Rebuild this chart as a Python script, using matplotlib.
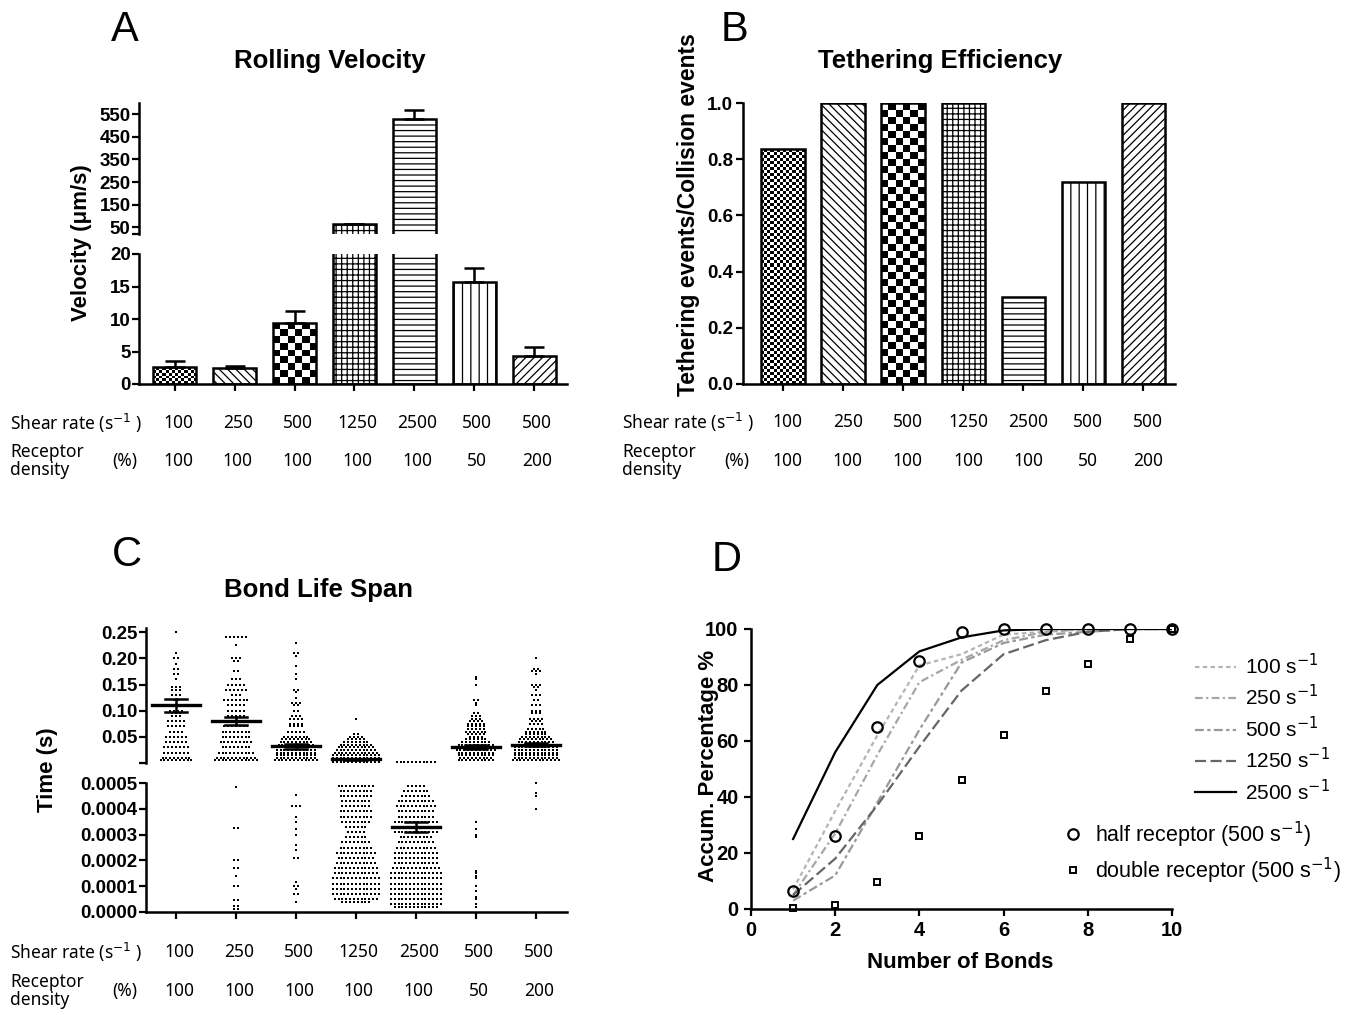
import matplotlib
matplotlib.use("Agg")
import matplotlib.pyplot as plt
import matplotlib.transforms as mtransforms
import numpy as np

W, H = 1365, 1015

# ---- data -------------------------------------------------------------
shear_rates = ["100", "250", "500", "1250", "2500", "500", "500"]
densities = ["100", "100", "100", "100", "100", "50", "200"]

velocity = [2.6, 2.4, 9.4, 63, 528, 15.7, 4.3]
velocity_err = [0.9, 0.3, 1.8, 2.5, 42, 2.1, 1.4]

tether_eff = [0.835, 1.0, 1.0, 1.0, 0.31, 0.72, 1.0]

bar_hatches = ["fine", "\\\\\\\\", "coarse", "+++", "---", "||", "////"]

# bond life span, (value [s], count) read row by row off the swarm
top_100 = [(0.250, 1), (0.210, 1), (0.200, 2), (0.190, 1), (0.180, 2), (0.170, 2),
           (0.160, 1), (0.145, 3), (0.140, 3), (0.130, 3), (0.120, 2), (0.110, 3),
           (0.100, 4), (0.095, 3), (0.090, 3), (0.080, 5), (0.070, 5), (0.060, 4),
           (0.050, 6), (0.040, 6), (0.030, 7), (0.020, 7), (0.010, 8), (0.005, 9)]
top_250 = [(0.240, 6), (0.225, 1), (0.200, 3), (0.195, 2), (0.175, 2), (0.160, 3),
           (0.150, 5), (0.140, 6), (0.130, 3), (0.120, 7), (0.110, 5), (0.100, 5),
           (0.090, 5), (0.080, 9), (0.070, 7), (0.060, 8), (0.050, 8), (0.040, 9),
           (0.030, 8), (0.020, 10), (0.010, 11), (0.005, 12)]
top_500 = [(0.230, 1), (0.210, 2), (0.205, 1), (0.185, 1), (0.170, 1), (0.160, 1),
           (0.140, 2), (0.135, 1), (0.125, 1), (0.115, 3), (0.110, 2), (0.100, 2),
           (0.090, 3), (0.085, 4), (0.075, 4), (0.070, 4), (0.060, 5), (0.050, 7),
           (0.045, 8), (0.040, 9), (0.035, 10), (0.030, 11), (0.025, 11), (0.020, 11),
           (0.015, 11), (0.010, 11), (0.005, 12)]
top_1250 = [(0.085, 1), (0.055, 2), (0.050, 4), (0.045, 5), (0.040, 7), (0.035, 9),
            (0.030, 10), (0.025, 11), (0.020, 12), (0.015, 13), (0.010, 13),
            (0.005, 13), (0.002, 13)]
top_2500 = [(0.001, 11)]
top_50pct = [(0.165, 1), (0.160, 1), (0.150, 1), (0.120, 2), (0.115, 1), (0.110, 1),
             (0.095, 2), (0.090, 3), (0.085, 3), (0.080, 4), (0.075, 5), (0.070, 5),
             (0.065, 5), (0.060, 6), (0.055, 5), (0.050, 4), (0.045, 6), (0.040, 8),
             (0.035, 10), (0.030, 11), (0.025, 11), (0.020, 10), (0.015, 10),
             (0.010, 9), (0.005, 10)]
top_200pct = [(0.200, 1), (0.180, 2), (0.175, 3), (0.170, 1), (0.150, 3), (0.145, 2),
              (0.140, 1), (0.130, 3), (0.120, 2), (0.110, 3), (0.100, 3), (0.095, 3),
              (0.085, 4), (0.080, 3), (0.075, 4), (0.065, 5), (0.060, 6), (0.055, 6),
              (0.050, 8), (0.045, 9), (0.040, 10), (0.035, 11), (0.030, 12),
              (0.025, 12), (0.020, 12), (0.015, 12), (0.010, 12), (0.005, 13)]

bot_100 = []
bot_250 = [(0.000484, 1), (0.000326, 2), (0.000200, 2), (0.000170, 2), (0.000140, 1),
           (0.000100, 2), (0.000047, 2), (0.000023, 2), (0.000010, 2)]
bot_500 = [(0.000453, 1), (0.000410, 3), (0.000370, 1), (0.000350, 1), (0.000320, 1),
           (0.000300, 1), (0.000260, 1), (0.000240, 1), (0.000210, 2), (0.000116, 1),
           (0.000100, 2), (0.000090, 1), (0.000070, 2), (0.000040, 1)]
bot_1250 = [(0.00049, 10), (0.00047, 9), (0.00045, 9), (0.00043, 8), (0.00041, 8),
            (0.00039, 9), (0.00037, 9), (0.00035, 8), (0.00033, 6), (0.00031, 5),
            (0.00029, 6), (0.00027, 8), (0.00025, 9), (0.00023, 11), (0.00021, 10),
            (0.00019, 11), (0.00017, 12), (0.00015, 12), (0.00013, 13), (0.00011, 13),
            (0.00009, 13), (0.00007, 13), (0.00005, 12), (0.00004, 8)]
bot_2500 = [(0.00049, 5), (0.00047, 7), (0.00045, 8), (0.00043, 10), (0.00041, 11),
            (0.00039, 10), (0.00037, 10), (0.00035, 12), (0.00033, 13), (0.00031, 12),
            (0.00029, 9), (0.00027, 10), (0.00025, 11), (0.00023, 12), (0.00021, 12),
            (0.00019, 12), (0.00017, 13), (0.00015, 14), (0.00013, 14), (0.00011, 14),
            (0.00009, 14), (0.00007, 14), (0.00005, 14), (0.00003, 14), (0.00002, 12)]
bot_50pct = [(0.00035, 1), (0.00032, 1), (0.00030, 1), (0.00029, 1), (0.00016, 1),
             (0.00015, 1), (0.00014, 1), (0.00013, 1), (0.00010, 1), (0.00008, 1),
             (0.00006, 1), (0.00005, 1), (0.00003, 1), (0.00002, 1)]
bot_200pct = [(0.00050, 1), (0.00046, 1), (0.00045, 1), (0.00040, 1)]

life_top = [top_100, top_250, top_500, top_1250, top_2500, top_50pct, top_200pct]
life_bot = [bot_100, bot_250, bot_500, bot_1250, bot_2500, bot_50pct, bot_200pct]
life_mean_top = [0.110, 0.080, 0.032, 0.007, None, 0.030, 0.035]
life_sem_top = [0.012, 0.008, 0.005, 0.001, None, 0.004, 0.003]
life_mean_2500 = 0.00033
life_sem_2500 = 0.00002

n_bonds = list(range(1, 11))
accum = {
    "100": [7, 35, 62, 87, 91, 98, 99, 100, 100, 100],
    "250": [5, 27, 55, 81, 89, 96, 99, 100, 100, 100],
    "500": [3, 12, 38, 64, 88, 95, 98, 99, 100, 100],
    "1250": [5, 18, 37, 58, 78, 91, 96, 99, 100, 100],
    "2500": [25, 56, 80, 92, 97, 99.5, 100, 100, 100, 100],
}
half_receptor = [6.5, 26, 65, 88.5, 99, 100, 100, 100, 100, 100]
double_receptor = [0.5, 1.5, 9.5, 26, 46, 62, 78, 87.5, 96.5, 100]

# ---- style ------------------------------------------------------------
plt.rcParams["font.family"] = ["Liberation Sans", "DejaVu Sans"]
plt.rcParams["hatch.linewidth"] = 0.9
plt.rcParams["axes.linewidth"] = 1.8

TABLE_FONT = ["Noto Sans", "DejaVu Sans"]
BAR_W = 0.72
EDGE_LW = 1.8
TICK_FS = 13.5
LABEL_FS = 16

fig = plt.figure(figsize=(W / 100, H / 100), dpi=100)


def px_axes(left, top, right, bottom):
    return fig.add_axes([left / W, 1 - bottom / H, (right - left) / W, (bottom - top) / H])


def fig_text(x, y, s, **kw):
    fig.text(x / W, 1 - y / H, s, **kw)


def style(ax, bottom=True, pad=2):
    for side in ("top", "right"):
        ax.spines[side].set_visible(False)
    if not bottom:
        ax.spines["bottom"].set_visible(False)
        ax.tick_params(axis="x", bottom=False, labelbottom=False)
    ax.tick_params(direction="out", length=5, width=1.6, labelsize=TICK_FS, pad=pad)


def bold_ticks(ax):
    plt.setp(ax.get_xticklabels() + ax.get_yticklabels(), fontweight="bold")


def checker(ax, patch, x, top, cell_px, base):
    x0, x1 = x - BAR_W / 2, x + BAR_W / 2
    p0 = ax.transData.transform((x0, base))
    p1 = ax.transData.transform((x1, top))
    nx_ = max(1, int(round(abs(p1[0] - p0[0]) / cell_px)))
    ny_ = max(1, int(round(abs(p1[1] - p0[1]) / cell_px)))
    board = np.add.outer(np.arange(ny_), np.arange(nx_)) % 2
    im = ax.imshow(board, cmap="gray", extent=(x0, x1, base, top), origin="lower",
                   aspect="auto", interpolation="nearest", zorder=2.5)
    im.set_clip_path(patch)


def draw_bars(ax, heights, base=0):
    xs = np.arange(len(heights))
    for i, (h, hatch) in enumerate(zip(heights, bar_hatches)):
        face = ax.bar(xs[i], h, BAR_W, color="white", edgecolor="none", zorder=2)[0]
        if hatch in ("fine", "coarse"):
            checker(ax, face, xs[i], h, 3.0 if hatch == "fine" else 7.0, base)
            hatch = None
        ax.bar(xs[i], h, BAR_W, fill=False, edgecolor="black", linewidth=EDGE_LW,
               hatch=hatch, zorder=3)


def upper_errors(ax, idx):
    ax.errorbar(idx, [velocity[i] for i in idx],
                yerr=[np.zeros(len(idx)), [velocity_err[i] for i in idx]], fmt="none",
                ecolor="black", elinewidth=1.8, capsize=7.5, capthick=1.8, zorder=4)


def table(ax, x_label, y1, y2, x_pct, dx=0.05):
    tr = mtransforms.blended_transform_factory(ax.transData, fig.transFigure)
    for i, (s, d) in enumerate(zip(shear_rates, densities)):
        ax.text(i + dx, 1 - y1 / H, s, transform=tr, ha="center", va="center",
                fontsize=12.5, family=TABLE_FONT)
        ax.text(i + dx, 1 - y2 / H, d, transform=tr, ha="center", va="center",
                fontsize=12.5, family=TABLE_FONT)
    fig_text(x_label, y1, "Shear rate (s$^{-1}$ )", ha="left", va="center",
             fontsize=12.5, family=TABLE_FONT)
    fig_text(x_label, y2, "Receptor\ndensity", ha="left", va="center",
             fontsize=12.5, family=TABLE_FONT, linespacing=0.95)
    fig_text(x_pct, y2, "(%)", ha="center", va="center", fontsize=12.5,
             family=TABLE_FONT)


# ---- A: rolling velocity (broken axis) ----------------------------------
xlim_a = (-0.6, 6.55)
axA_hi = px_axes(139, 103, 567, 234)
axA_lo = px_axes(139, 254, 567, 384)
for ax, lim in ((axA_hi, (20, 600)), (axA_lo, (0, 20))):
    ax.set_xlim(*xlim_a)
    ax.set_ylim(*lim)
    style(ax, bottom=(ax is axA_lo), pad=1)
    ax.spines["bottom"].set_visible(ax is axA_lo)
draw_bars(axA_lo, velocity)
draw_bars(axA_hi, velocity, base=20)
upper_errors(axA_hi, [i for i, v in enumerate(velocity) if v > 20])
upper_errors(axA_lo, [i for i, v in enumerate(velocity) if v + velocity_err[i] < 20])
for ax in (axA_hi, axA_lo):
    ax.set_xlim(*xlim_a)
axA_hi.set_ylim(20, 600)
axA_lo.set_ylim(0, 20)
axA_hi.set_yticks([20, 50, 150, 250, 350, 450, 550], ["", "50", "150", "250", "350", "450", "550"])
axA_lo.set_yticks([0, 5, 10, 15, 20])
axA_lo.set_xticks(range(7), [""] * 7)
bold_ticks(axA_hi)
bold_ticks(axA_lo)
table(axA_lo, 10, 423, 461, 125)

fig_text(125, 30, "A", ha="center", va="center", fontsize=30)
fig_text(330, 61, "Rolling Velocity", ha="center", va="center", fontsize=18.5,
         fontweight="bold")
fig_text(82, 243, "Velocity (μm/s)", ha="center", va="center", rotation=90,
         fontsize=LABEL_FS, fontweight="bold")

# ---- B: tethering efficiency -------------------------------------------
axB = px_axes(743, 103, 1175, 384)
axB.set_xlim(-0.667, 6.53)
axB.set_ylim(0, 1.0)
style(axB)
draw_bars(axB, tether_eff)
axB.set_xlim(-0.667, 6.53)
axB.set_ylim(0, 1.0)
axB.set_yticks(np.arange(0, 1.01, 0.2), [f"{v:.1f}" for v in np.arange(0, 1.01, 0.2)])
axB.set_xticks(range(7), [""] * 7)
bold_ticks(axB)
table(axB, 622, 422, 461, 737, dx=0.08)

fig_text(735, 30, "B", ha="center", va="center", fontsize=30)
fig_text(940, 61, "Tethering Efficiency", ha="center", va="center", fontsize=18.5,
         fontweight="bold")
fig_text(688, 215, "Tethering events/Collision events", ha="center", va="center",
         rotation=90, fontsize=16.5, fontweight="bold")

# ---- C: bond life span (broken axis swarm) -----------------------------
xlim_c = (-0.5, 6.52)
axC_hi = px_axes(146, 628, 567, 763)
axC_lo = px_axes(146, 783, 567, 912)
DX = 0.064


def swarm(ax, groups):
    for i, rows in enumerate(groups):
        xs, ys = [], []
        for v, n in rows:
            xs.extend(i + (np.arange(n) - (n - 1) / 2) * DX)
            ys.extend([v] * n)
        ax.scatter(xs, ys, s=4.6, marker="s", color="black", linewidths=0, zorder=3,
                   clip_on=False)


def mean_sem(ax, i, m, e):
    ax.plot([i - 0.4, i + 0.4], [m, m], color="black", lw=2.4, zorder=4)
    ax.plot([i, i], [m - e, m + e], color="black", lw=1.8, zorder=4)
    for y in (m - e, m + e):
        ax.plot([i - 0.18, i + 0.18], [y, y], color="black", lw=1.8, zorder=4)


swarm(axC_hi, life_top)
swarm(axC_lo, life_bot)
for i, (m, e) in enumerate(zip(life_mean_top, life_sem_top)):
    if m is not None:
        mean_sem(axC_hi, i, m, e)
mean_sem(axC_lo, 4, life_mean_2500, life_sem_2500)

for ax in (axC_hi, axC_lo):
    ax.set_xlim(*xlim_c)
    style(ax, bottom=(ax is axC_lo), pad=1)
axC_hi.set_ylim(0, 0.258)
axC_lo.set_ylim(0, 0.0005)
axC_hi.set_yticks([0, 0.05, 0.10, 0.15, 0.20, 0.25],
                  ["", "0.05", "0.10", "0.15", "0.20", "0.25"])
axC_lo.set_yticks(np.linspace(0, 0.0005, 6), [f"{v:.4f}" for v in np.linspace(0, 0.0005, 6)])
axC_lo.set_xticks(range(7), [""] * 7)
bold_ticks(axC_hi)
bold_ticks(axC_lo)
table(axC_lo, 10, 952, 991, 125)

fig_text(127, 555, "C", ha="center", va="center", fontsize=30)
fig_text(318, 590, "Bond Life Span", ha="center", va="center", fontsize=18.5,
         fontweight="bold")
fig_text(47, 770, "Time (s)", ha="center", va="center", rotation=90,
         fontsize=LABEL_FS, fontweight="bold")

# ---- D: accumulated percentage -----------------------------------------
axD = px_axes(751, 629, 1172, 909)
style(axD, pad=4)
line_styles = {
    "100": dict(color="#b4b4b4", linestyle=(0, (2.0, 1.5))),
    "250": dict(color="#a6a6a6", linestyle=(0, (3.5, 1.5, 1.0, 1.5))),
    "500": dict(color="#999999", linestyle=(0, (4.0, 1.5, 1.5, 1.5))),
    "1250": dict(color="#666666", linestyle=(0, (5.0, 2.0))),
    "2500": dict(color="black", linestyle="-"),
}
line_handles = []
for key, vals in accum.items():
    (ln,) = axD.plot(n_bonds, vals, lw=1.6, label=f"{key} s$^{{-1}}$", **line_styles[key])
    line_handles.append(ln)
(h_half,) = axD.plot(n_bonds, half_receptor, "o", ms=7.5, mfc="none", mec="black",
                     mew=1.6, clip_on=False, label="half receptor (500 s$^{-1}$)")
(h_double,) = axD.plot(n_bonds, double_receptor, "s", ms=4.5, mfc="none", mec="black",
                       mew=1.4, clip_on=False, label="double receptor (500 s$^{-1}$)")
axD.set_xlim(0, 10)
axD.set_ylim(0, 100)
axD.set_xticks(range(0, 11, 2))
axD.set_yticks(range(0, 101, 20))
axD.tick_params(labelsize=14.5)
bold_ticks(axD)
fig_text(960, 963, "Number of Bonds", ha="center", va="center", fontsize=LABEL_FS,
         fontweight="bold")
fig_text(708, 766, "Accum. Percentage %", ha="center", va="center", rotation=90,
         fontsize=LABEL_FS, fontweight="bold")

fig.legend(handles=line_handles, loc="upper left",
           bbox_to_anchor=(1176 / W, 1 - 634 / H), frameon=False, fontsize=15,
           handlelength=2.0, handletextpad=0.4, labelspacing=0.3)
fig.legend(handles=[h_half, h_double], loc="upper left",
           bbox_to_anchor=(1043 / W, 1 - 800 / H), frameon=False, fontsize=15.5,
           handlelength=1.0, handletextpad=0.5, labelspacing=0.28)

fig_text(727, 560, "D", ha="center", va="center", fontsize=30)

fig.savefig("out.png", dpi=100)
